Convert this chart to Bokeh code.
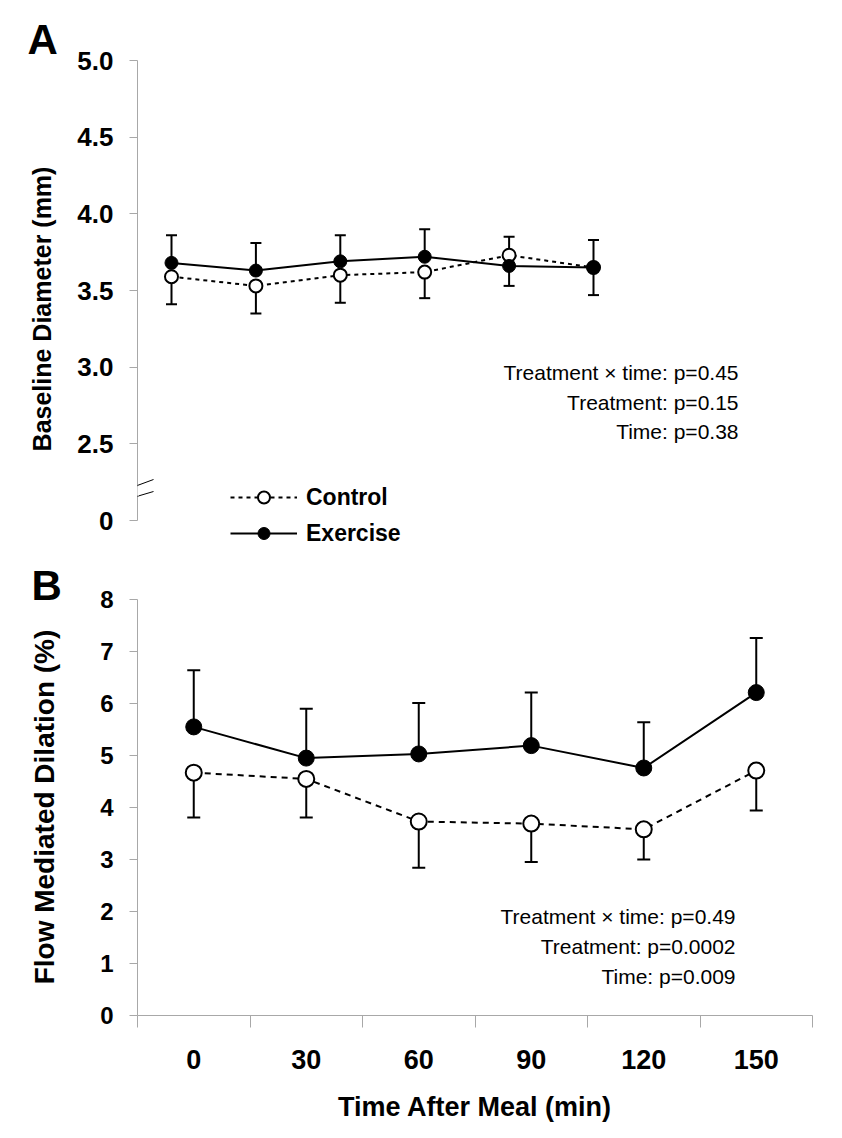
import math
from bokeh.plotting import figure
from bokeh.models import ColumnDataSource, FixedTicker, Arrow, Legend, LegendItem, Title
from bokeh.layouts import column
from bokeh.embed import file_html
from bokeh.resources import INLINE
from bokeh.core.properties import value

# ---------------- data ----------------
times = [0, 30, 60, 90, 120, 150]
x_tick_labels = ["0", "30", "60", "90", "120", "150"]
series_names = ["Control", "Exercise"]

# Panel A: baseline diameter (mm)
ctrl_diam = [3.59, 3.53, 3.60, 3.62, 3.73, 3.65]
ctrl_diam_err_up = [0.0, 0.0, 0.0, 0.0, 0.12, 0.0]
ctrl_diam_err_down = [0.18, 0.18, 0.18, 0.17, 0.0, 0.18]
ex_diam = [3.68, 3.63, 3.69, 3.72, 3.66, 3.65]
ex_diam_err_up = [0.18, 0.18, 0.17, 0.18, 0.0, 0.18]
ex_diam_err_down = [0.0, 0.0, 0.0, 0.0, 0.13, 0.0]
diam_ticks = [2.0, 2.5, 3.0, 3.5, 4.0, 4.5, 5.0]
diam_tick_labels = ["0", "2.5", "3.0", "3.5", "4.0", "4.5", "5.0"]
stats_a = ["Treatment \u00d7 time: p=0.45", "Treatment: p=0.15", "Time: p=0.38"]

# Panel B: flow mediated dilation (%)
ctrl_fmd = [4.67, 4.55, 3.73, 3.69, 3.58, 4.71]
ctrl_fmd_err_up = [0, 0, 0, 0, 0, 0]
ctrl_fmd_err_down = [0.86, 0.74, 0.89, 0.74, 0.58, 0.77]
ex_fmd = [5.55, 4.95, 5.03, 5.19, 4.76, 6.21]
ex_fmd_err_up = [1.09, 0.95, 0.98, 1.02, 0.88, 1.05]
ex_fmd_err_down = [0, 0, 0, 0, 0, 0]
fmd_ticks = [0, 1, 2, 3, 4, 5, 6, 7, 8]
fmd_tick_labels = ["0", "1", "2", "3", "4", "5", "6", "7", "8"]
stats_b = ["Treatment \u00d7 time: p=0.49", "Treatment: p=0.0002", "Time: p=0.009"]

# ---------------- layout constants ----------------
FONT = "Liberation Sans"
GRAY = "#a8a8a8"

# panel A frame (page px) and ranges
FA_L, FA_T, FA_W = 134, 56, 676
FA_B = 561
FA_H = FA_B - FA_T
XA = (-12.085, 228.2)
PX_PER_MM = 460.0 / 3.0          # 5.0 at y=60, 2.0 at y=520
YA = (5.0 - (FA_B - 60) / PX_PER_MM, 5.0 + (60 - FA_T) / PX_PER_MM)
# panel B frame (page px) and ranges
FB_L, FB_T, FB_W = 137, 598, 675
FB_H = 1015 - FB_T
XB = (-15.0, 165.0)
YB = (0.0, 8.0 + (599 - FB_T) / 52.0)


def to_data(px, py, L, T, W, H, xr, yr):
    x = xr[0] + (px - L) * (xr[1] - xr[0]) / W
    y = yr[1] - (py - T) * (yr[1] - yr[0]) / H
    return x, y


def pa_xy(px, py):
    return to_data(px, py, FA_L, FA_T, FA_W, FA_H, XA, YA)


def pb_xy(px, py):
    return to_data(px, py, FB_L, FB_T, FB_W, FB_H, XB, YB)


def style_yaxis(ax, ticks, labels, size, title, title_size, standoff):
    ax.ticker = FixedTicker(ticks=ticks)
    ax.major_label_overrides = {t: l for t, l in zip(ticks, labels)}
    ax.bounds = (ticks[0], ticks[-1])
    ax.axis_line_color = GRAY
    ax.axis_line_width = 1
    ax.major_tick_line_color = GRAY
    ax.major_tick_out = 8
    ax.major_tick_in = 0
    ax.minor_tick_line_color = None
    ax.major_label_text_font = FONT
    ax.major_label_text_font_style = "bold"
    ax.major_label_text_font_size = size
    ax.major_label_text_color = "black"
    ax.major_label_standoff = 16
    ax.axis_label = title
    ax.axis_label_text_font = FONT
    ax.axis_label_text_font_style = "bold"
    ax.axis_label_text_font_size = title_size
    ax.axis_label_text_color = "black"
    ax.axis_label_standoff = standoff


def draw_series(p, x, ctrl, c_up, c_dn, ex, e_up, e_dn, msize, cap, dash):
    for ys, ups, dns in [(ctrl, c_up, c_dn), (ex, e_up, e_dn)]:
        x0, y0, y1 = [], [], []
        for xi, yi, u, d in zip(x, ys, ups, dns):
            if u > 0:
                x0.append(xi); y0.append(yi); y1.append(yi + u)
            if d > 0:
                x0.append(xi); y0.append(yi); y1.append(yi - d)
        p.segment(x0=x0, y0=y0, x1=x0, y1=y1, line_color="black", line_width=2)
        p.scatter(x=x0, y=y1, marker="dash", size=cap, line_color="black", line_width=2)
    cl = p.line(x, ctrl, line_color="black", line_width=2, line_dash=dash)
    el = p.line(x, ex, line_color="black", line_width=2)
    cm = p.scatter(x, ctrl, size=msize, fill_color="white", line_color="black", line_width=2)
    em = p.scatter(x, ex, size=msize, fill_color="black", line_color="black", line_width=1)
    return (cl, cm), (el, em)


def add_stats(p, xy_list, texts):
    src = ColumnDataSource(dict(x=[q[0] for q in xy_list], y=[q[1] for q in xy_list], t=texts))
    p.text(x="x", y="y", text="t", source=src, text_font=value(FONT),
           text_font_size="21px", text_align="right", text_baseline="middle",
           text_color="black")


def panel_letter(p, letter, offset, standoff):
    p.add_layout(Title(text=letter, align="left", offset=offset, standoff=standoff,
                       vertical_align="bottom", text_font=FONT, text_font_style="bold",
                       text_font_size="42px", text_color="black"), "above")


# ---------------- panel A ----------------
pa = figure(frame_width=FA_W, frame_height=FA_H, x_range=XA, y_range=YA,
            x_axis_location=None, output_backend="svg", toolbar_location=None,
            min_border_left=FA_L, min_border_top=FA_T, min_border_bottom=0,
            min_border_right=16, outline_line_color=None,
            background_fill_color="white", border_fill_color="white")
pa.grid.visible = False
style_yaxis(pa.yaxis[0], diam_ticks, diam_tick_labels, "26px",
            "Baseline Diameter (mm)", "25px", 18)

(ca, cam), (ea, eam) = draw_series(pa, times, ctrl_diam, ctrl_diam_err_up, ctrl_diam_err_down,
                                   ex_diam, ex_diam_err_up, ex_diam_err_down,
                                   msize=13, cap=11, dash="4 4")

add_stats(pa, [pa_xy(735, 372), pa_xy(735, 402), pa_xy(735, 431)], stats_a)

legend = Legend(items=[LegendItem(label=series_names[0], renderers=[ca, cam]),
                       LegendItem(label=series_names[1], renderers=[ea, eam])],
                location=(93, FA_B - 548), orientation="vertical",
                glyph_width=67, glyph_height=30, label_height=30, label_standoff=9,
                spacing=6, padding=0, margin=0, border_line_color=None,
                background_fill_alpha=0, label_text_font=FONT,
                label_text_font_style="bold", label_text_font_size="23px",
                label_text_color="black")
pa.add_layout(legend)

# axis break marks
for (a, b) in [((123, 489), (150, 479)), ((123, 499), (150, 491))]:
    s = pa_xy(*a); e = pa_xy(*b)
    pa.add_layout(Arrow(x_start=s[0], y_start=s[1], x_end=e[0], y_end=e[1],
                        start=None, end=None, line_color="black", line_width=1))
g0 = pa_xy(FA_L, 486); g1 = pa_xy(FA_L, 495)
pa.add_layout(Arrow(x_start=g0[0], y_start=g0[1], x_end=g1[0], y_end=g1[1],
                    start=None, end=None, line_color="white", line_width=3))

panel_letter(pa, "A", 24 - FA_L, -12)

# ---------------- panel B ----------------
pb = figure(frame_width=FB_W, frame_height=FB_H, x_range=XB, y_range=YB,
            output_backend="svg", toolbar_location=None,
            min_border_left=FB_L, min_border_top=FB_T - FA_B, min_border_bottom=112,
            min_border_right=16, outline_line_color=None,
            background_fill_color="white", border_fill_color="white")
pb.grid.visible = False
style_yaxis(pb.yaxis[0], fmd_ticks, fmd_tick_labels, "24px",
            "Flow Mediated Dilation (%)", "28px", 37)

xb = pb.xaxis[0]
half = (times[1] - times[0]) / 2
bounds_ticks = [t - half for t in times] + [times[-1] + half]
xb.ticker = FixedTicker(ticks=times, minor_ticks=bounds_ticks)
xb.major_label_overrides = {t: l for t, l in zip(times, x_tick_labels)}
xb.axis_line_color = GRAY
xb.major_tick_line_color = None
xb.major_tick_out = 0
xb.major_tick_in = 0
xb.minor_tick_line_color = GRAY
xb.minor_tick_out = 12
xb.minor_tick_in = 0
xb.major_label_text_font = FONT
xb.major_label_text_font_style = "bold"
xb.major_label_text_font_size = "27px"
xb.major_label_text_color = "black"
xb.major_label_standoff = 22
xb.axis_label = "Time After Meal (min)"
xb.axis_label_text_font = FONT
xb.axis_label_text_font_style = "bold"
xb.axis_label_text_font_size = "27px"
xb.axis_label_text_color = "black"
xb.axis_label_standoff = 20

draw_series(pb, times, ctrl_fmd, ctrl_fmd_err_up, ctrl_fmd_err_down,
            ex_fmd, ex_fmd_err_up, ex_fmd_err_down, msize=16, cap=13, dash="6 5")

add_stats(pb, [pb_xy(735, 916), pb_xy(735, 946), pb_xy(735, 976)], stats_b)

panel_letter(pb, "B", 31 - FB_L, -20)

layout = column(pa, pb, spacing=0)
open("out.html", "w").write(file_html(layout, INLINE))
